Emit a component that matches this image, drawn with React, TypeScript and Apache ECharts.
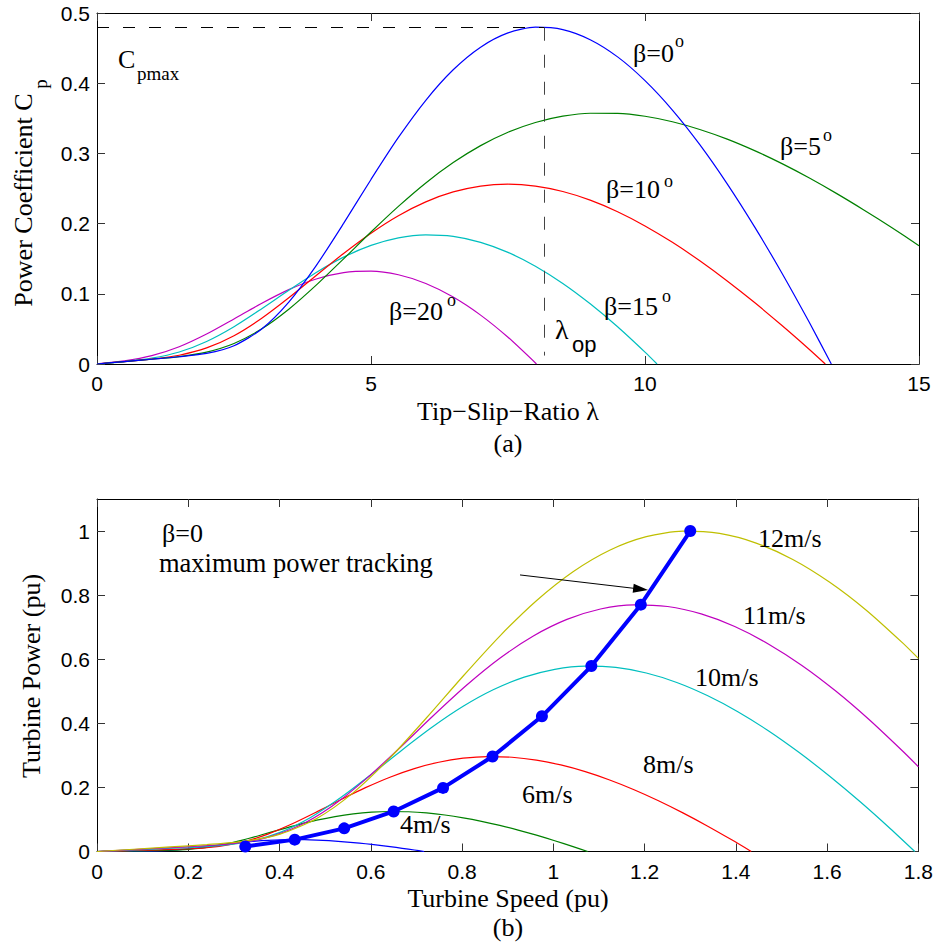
import React, { useEffect, useRef } from "react";
import * as echarts from "echarts";

// ---------- (a) Power coefficient vs tip-speed ratio ----------
const cpBeta0: number[][] = [
  [0, 0], [0.5, 0.0034], [1, 0.0068], [1.5, 0.0103], [2, 0.0151], [2.5, 0.0261], [3, 0.0495],
  [3.5, 0.0882], [4, 0.1402], [4.5, 0.2003], [5, 0.2629], [5.5, 0.3227], [6, 0.3757], [6.5, 0.4191],
  [7, 0.4513], [7.5, 0.4716], [8, 0.4798], [8.5, 0.4764], [9, 0.462], [9.5, 0.4375], [10, 0.4037],
  [10.5, 0.3618], [11, 0.3125], [11.5, 0.2567], [12, 0.1954], [12.5, 0.1293], [13, 0.059], [13.4, 0],
];
const cpBeta5: number[][] = [
  [0, 0], [0.5, 0.0034], [1, 0.0068], [1.5, 0.0106], [2, 0.017], [2.5, 0.0293], [3, 0.0497],
  [3.5, 0.078], [4, 0.1123], [4.5, 0.1498], [5, 0.188], [5.5, 0.2245], [6, 0.2579], [6.5, 0.2869],
  [7, 0.3111], [7.5, 0.3301], [8, 0.344], [8.5, 0.353], [9, 0.3572], [9.5, 0.357], [10, 0.3529],
  [10.5, 0.3451], [11, 0.3341], [11.5, 0.3203], [12, 0.3039], [12.5, 0.2854], [13, 0.2649],
  [13.5, 0.2427], [14, 0.2191], [14.5, 0.1944], [15, 0.1686],
];
const cpBeta10: number[][] = [
  [0, 0], [0.5, 0.0034], [1, 0.007], [1.5, 0.0125], [2, 0.0229], [2.5, 0.0403], [3, 0.0648],
  [3.5, 0.0943], [4, 0.1261], [4.5, 0.1575], [5, 0.1864], [5.5, 0.2113], [6, 0.231], [6.5, 0.2451],
  [7, 0.2535], [7.5, 0.2561], [8, 0.2534], [8.5, 0.2457], [9, 0.2334], [9.5, 0.2169], [10, 0.1967],
  [10.5, 0.1733], [11, 0.147], [11.5, 0.1183], [12, 0.0875], [12.5, 0.0548], [13, 0.0207], [13.29, 0],
];
const cpBeta15: number[][] = [
  [0, 0], [0.5, 0.0035], [1, 0.0083], [1.5, 0.0171], [2, 0.0321], [2.5, 0.0531], [3, 0.0784],
  [3.5, 0.105], [4, 0.1304], [4.5, 0.1522], [5, 0.1689], [5.5, 0.1797], [6, 0.184], [6.5, 0.1818],
  [7, 0.1733], [7.5, 0.159], [8, 0.1393], [8.5, 0.1147], [9, 0.0857], [9.5, 0.053], [10, 0.0169],
  [10.22, 0],
];
const cpBeta20: number[][] = [
  [0, 0.0001], [0.5, 0.0044], [1, 0.0119], [1.5, 0.0246], [2, 0.0427], [2.5, 0.0642], [3, 0.0862],
  [3.5, 0.1059], [4, 0.1211], [4.5, 0.1302], [5, 0.1323], [5.5, 0.1271], [6, 0.1147], [6.5, 0.0954],
  [7, 0.0696], [7.5, 0.038], [8.02, 0],
];
const cpMax = 0.479;
const lambdaOpt = 8.16;

// ---------- (b) Turbine power vs turbine speed ----------
const wind12: number[][] = [
  [0, 0], [0.0802, 0.0071], [0.1605, 0.0142], [0.2407, 0.0215], [0.321, 0.0315], [0.4012, 0.0544],
  [0.4815, 0.1031], [0.5617, 0.1838], [0.642, 0.2921], [0.7222, 0.4173], [0.8025, 0.5477],
  [0.8827, 0.6723], [0.9629, 0.7827], [1.0432, 0.8731], [1.1234, 0.9402], [1.2037, 0.9825],
  [1.2839, 0.9996], [1.3642, 0.9925], [1.4444, 0.9625], [1.5247, 0.9115], [1.6049, 0.841],
  [1.6851, 0.7538], [1.7654, 0.651], [1.8, 0.6025],
];
const wind11: number[][] = [
  [0, 0], [0.0736, 0.0055], [0.1471, 0.0109], [0.2207, 0.0165], [0.2942, 0.0242], [0.3678, 0.0419],
  [0.4413, 0.0794], [0.5149, 0.1415], [0.5884, 0.225], [0.662, 0.3214], [0.7356, 0.4219],
  [0.8091, 0.5178], [0.8827, 0.6029], [0.9562, 0.6725], [1.0298, 0.7242], [1.1033, 0.7568],
  [1.1769, 0.7699], [1.2504, 0.7645], [1.324, 0.7414], [1.3975, 0.7021], [1.4711, 0.6478],
  [1.5447, 0.5806], [1.6182, 0.5015], [1.6918, 0.4119], [1.7653, 0.3136], [1.8, 0.2646],
];
const wind10: number[][] = [
  [0, 0], [0.0669, 0.0041], [0.1337, 0.0082], [0.2006, 0.0124], [0.2675, 0.0182], [0.3344, 0.0315],
  [0.4012, 0.0597], [0.4681, 0.1063], [0.535, 0.169], [0.6018, 0.2415], [0.6687, 0.317],
  [0.7356, 0.3891], [0.8024, 0.453], [0.8693, 0.5053], [0.9362, 0.5441], [1.0031, 0.5686],
  [1.0699, 0.5785], [1.1368, 0.5744], [1.2037, 0.557], [1.2705, 0.5275], [1.3374, 0.4867],
  [1.4043, 0.4362], [1.4711, 0.3768], [1.538, 0.3095], [1.6049, 0.2356], [1.6718, 0.1559],
  [1.7386, 0.0711], [1.7921, 0],
];
const wind8: number[][] = [
  [0, 0], [0.0535, 0.0021], [0.107, 0.0042], [0.1605, 0.0064], [0.214, 0.0093], [0.2675, 0.0161],
  [0.321, 0.0306], [0.3745, 0.0544], [0.428, 0.0865], [0.4815, 0.1236], [0.535, 0.1623],
  [0.5884, 0.1992], [0.6419, 0.2319], [0.6954, 0.2587], [0.7489, 0.2786], [0.8024, 0.2911],
  [0.8559, 0.2962], [0.9094, 0.2941], [0.9629, 0.2852], [1.0164, 0.2701], [1.0699, 0.2492],
  [1.1234, 0.2233], [1.1769, 0.1929], [1.2304, 0.1585], [1.2839, 0.1206], [1.3374, 0.0798],
  [1.3909, 0.0364], [1.4337, 0],
];
const wind6: number[][] = [
  [0, 0], [0.0401, 0.0009], [0.0802, 0.0018], [0.1204, 0.0027], [0.1605, 0.0039], [0.2006, 0.0068],
  [0.2407, 0.0129], [0.2809, 0.023], [0.321, 0.0365], [0.3611, 0.0522], [0.4012, 0.0685],
  [0.4414, 0.084], [0.4815, 0.0978], [0.5216, 0.1091], [0.5617, 0.1175], [0.6019, 0.1228],
  [0.642, 0.1249], [0.6821, 0.1241], [0.7222, 0.1203], [0.7624, 0.1139], [0.8025, 0.1051],
  [0.8426, 0.0942], [0.8827, 0.0814], [0.9229, 0.0668], [0.963, 0.0509], [1.0031, 0.0337],
  [1.0432, 0.0154], [1.0753, 0],
];
const wind4: number[][] = [
  [0, 0], [0.0268, 0.0003], [0.0535, 0.0005], [0.0803, 0.0008], [0.107, 0.0012], [0.1338, 0.002],
  [0.1605, 0.0038], [0.1873, 0.0068], [0.214, 0.0108], [0.2408, 0.0155], [0.2675, 0.0203],
  [0.2943, 0.0249], [0.321, 0.029], [0.3478, 0.0323], [0.3745, 0.0348], [0.4013, 0.0364],
  [0.428, 0.037], [0.4548, 0.0368], [0.4815, 0.0356], [0.5083, 0.0338], [0.535, 0.0311],
  [0.5618, 0.0279], [0.5885, 0.0241], [0.6153, 0.0198], [0.642, 0.0151], [0.6688, 0.01],
  [0.6955, 0.0046], [0.7169, 0],
];
const tracking: number[][] = [
  [0.325, 0.0156], [0.4333, 0.037], [0.5417, 0.0723], [0.65, 0.125], [0.7583, 0.1985],
  [0.8667, 0.2963], [0.975, 0.4219], [1.0833, 0.5787], [1.1917, 0.7703], [1.3, 1.0],
];
const arrowFrom = [0.927, 0.863];
const arrowTo = [1.1913, 0.8188];

const SANS = '"Liberation Sans", Arial, Helvetica, sans-serif';
const SERIF = '"Liberation Serif", "Times New Roman", Times, serif';

const C_BLUE = "#0000ff";
const C_GREEN = "#008000";
const C_RED = "#ff0000";
const C_CYAN = "#00bfbf";
const C_MAGENTA = "#bf00bf";
const C_YELLOW = "#bfbf00";

function xAxis(grid: number, min: number, max: number, interval: number, top: boolean) {
  return {
    type: "value",
    gridIndex: grid,
    min,
    max,
    interval,
    position: top ? "top" : "bottom",
    axisLine: { show: true, onZero: false, lineStyle: { color: "#000", width: 1 } },
    axisTick: { show: true, inside: true, length: 8, lineStyle: { color: "#333", width: 1 } },
    axisLabel: { show: !top, color: "#000", fontFamily: SANS, fontSize: 21, margin: 9 },
    splitLine: { show: false },
  };
}
function yAxis(grid: number, min: number, max: number, interval: number, right: boolean) {
  return {
    type: "value",
    gridIndex: grid,
    min,
    max,
    interval,
    position: right ? "right" : "left",
    axisLine: { show: true, onZero: false, lineStyle: { color: "#000", width: 1 } },
    axisTick: { show: true, inside: true, length: 8, lineStyle: { color: "#333", width: 1 } },
    axisLabel: {
      show: !right,
      color: "#000",
      fontFamily: SANS,
      fontSize: 21,
      margin: 7,
      showMaxLabel: max === 0.5,
    },
    splitLine: { show: false },
  };
}
function curve(data: number[][], color: string, xi: number, yi: number, extra: any = {}) {
  return {
    type: "line",
    data,
    xAxisIndex: xi,
    yAxisIndex: yi,
    showSymbol: false,
    symbol: "none",
    smooth: 0.25,
    silent: true,
    lineStyle: { color, width: 1.2 },
    ...extra,
  };
}
function txt(text: string, x: number, y: number, size: number, family = SERIF, extra: any = {}) {
  return {
    type: "text",
    x,
    y,
    silent: true,
    z: 100,
    ...extra,
    style: {
      text,
      font: `${size}px ${family}`,
      fill: "#000",
      align: extra.align || "left",
      verticalAlign: "middle",
    },
  };
}

export default function App() {
  const ref = useRef<HTMLDivElement>(null);
  useEffect(() => {
    const chart = echarts.init(ref.current!, null, { renderer: "svg" });
    const option: any = {
      animation: false,
      backgroundColor: "#fff",
      grid: [
        { left: 97, top: 13, right: 17, height: 351 },
        { left: 97, top: 499, right: 17, height: 352.5 },
      ],
      xAxis: [
        xAxis(0, 0, 15, 5, false),
        xAxis(0, 0, 15, 5, true),
        xAxis(1, 0, 1.8, 0.2, false),
        xAxis(1, 0, 1.8, 0.2, true),
      ],
      yAxis: [
        yAxis(0, 0, 0.5, 0.1, false),
        yAxis(0, 0, 0.5, 0.1, true),
        yAxis(1, 0, 1.1, 0.2, false),
        yAxis(1, 0, 1.1, 0.2, true),
      ],
      series: [
        curve(cpBeta20, C_MAGENTA, 0, 0),
        curve(cpBeta15, C_CYAN, 0, 0),
        curve(cpBeta10, C_RED, 0, 0),
        curve(cpBeta5, C_GREEN, 0, 0),
        curve(cpBeta0, C_BLUE, 0, 0, {
          markLine: {
            silent: true,
            symbol: ["none", "none"],
            label: { show: false },
            emphasis: { disabled: true },
            data: [
              [
                { coord: [0, cpMax], lineStyle: { color: "#000", width: 1, type: [12, 14] } },
                { coord: [lambdaOpt, cpMax] },
              ],
              [
                { coord: [lambdaOpt, cpMax], lineStyle: { color: "#444", width: 1, type: [13, 14] } },
                { coord: [lambdaOpt, 0.012] },
              ],
            ],
          },
        }),
        curve(wind4, C_BLUE, 2, 2),
        curve(wind6, C_GREEN, 2, 2),
        curve(wind8, C_RED, 2, 2),
        curve(wind10, C_CYAN, 2, 2),
        curve(wind11, C_MAGENTA, 2, 2),
        curve(wind12, C_YELLOW, 2, 2),
        {
          type: "line",
          data: tracking,
          xAxisIndex: 2,
          yAxisIndex: 2,
          silent: true,
          symbol: "circle",
          symbolSize: 12,
          showSymbol: true,
          itemStyle: { color: C_BLUE },
          lineStyle: { color: C_BLUE, width: 4 },
          z: 5,
          markLine: {
            silent: true,
            symbol: ["none", "triangle"],
            symbolSize: [9, 15],
            label: { show: false },
            emphasis: { disabled: true },
            lineStyle: { color: "#000", width: 1, type: "solid" },
            itemStyle: { color: "#000" },
            data: [[{ coord: arrowFrom }, { coord: arrowTo }]],
          },
        },
      ],
      graphic: [
        // panel (a) annotations
        txt("β=0", 633, 53, 26),
        txt("o", 675, 40.5, 18),
        txt("β=5", 780, 146, 26),
        txt("o", 823, 134.5, 18),
        txt("β=10", 606, 189, 26),
        txt("o", 664, 180.5, 18),
        txt("β=15", 604, 306, 26),
        txt("o", 662, 295.5, 18),
        txt("β=20", 389, 311, 26),
        txt("o", 447, 299.5, 18),
        txt("C", 118, 59, 26),
        txt("pmax", 137, 73.6, 19),
        txt("λ", 555, 329, 28),
        txt("op", 572, 344.5, 22, SANS),
        txt("Tip−Slip−Ratio λ", 508, 411, 26, SERIF, { align: "center" }),
        txt("(a)", 508, 443, 26, SERIF, { align: "center" }),
        txt("Power Coefficient C", 23, 200, 26, SERIF, { align: "center", rotation: Math.PI / 2 }),
        txt("p", 40, 84, 19, SERIF, { align: "center", rotation: Math.PI / 2 }),
        // panel (b) annotations
        txt("β=0", 162, 533, 26),
        txt("maximum power tracking", 159, 563, 26.5),
        txt("12m/s", 758, 538, 26),
        txt("11m/s", 743, 615, 26),
        txt("10m/s", 695, 677, 26),
        txt("8m/s", 643, 764, 26),
        txt("6m/s", 522, 794, 26),
        txt("4m/s", 400, 824, 26),
        txt("Turbine Speed (pu)", 508, 898, 26, SERIF, { align: "center" }),
        txt("(b)", 508, 927, 26, SERIF, { align: "center" }),
        txt("Turbine Power (pu)", 31, 676, 26, SERIF, { align: "center", rotation: Math.PI / 2 }),
      ],
    };
    chart.setOption(option);
    return () => chart.dispose();
  }, []);
  return (
    <div
      ref={ref}
      style={{ position: "fixed", left: 0, top: 0, width: 936, height: 946, background: "#fff" }}
    />
  );
}
